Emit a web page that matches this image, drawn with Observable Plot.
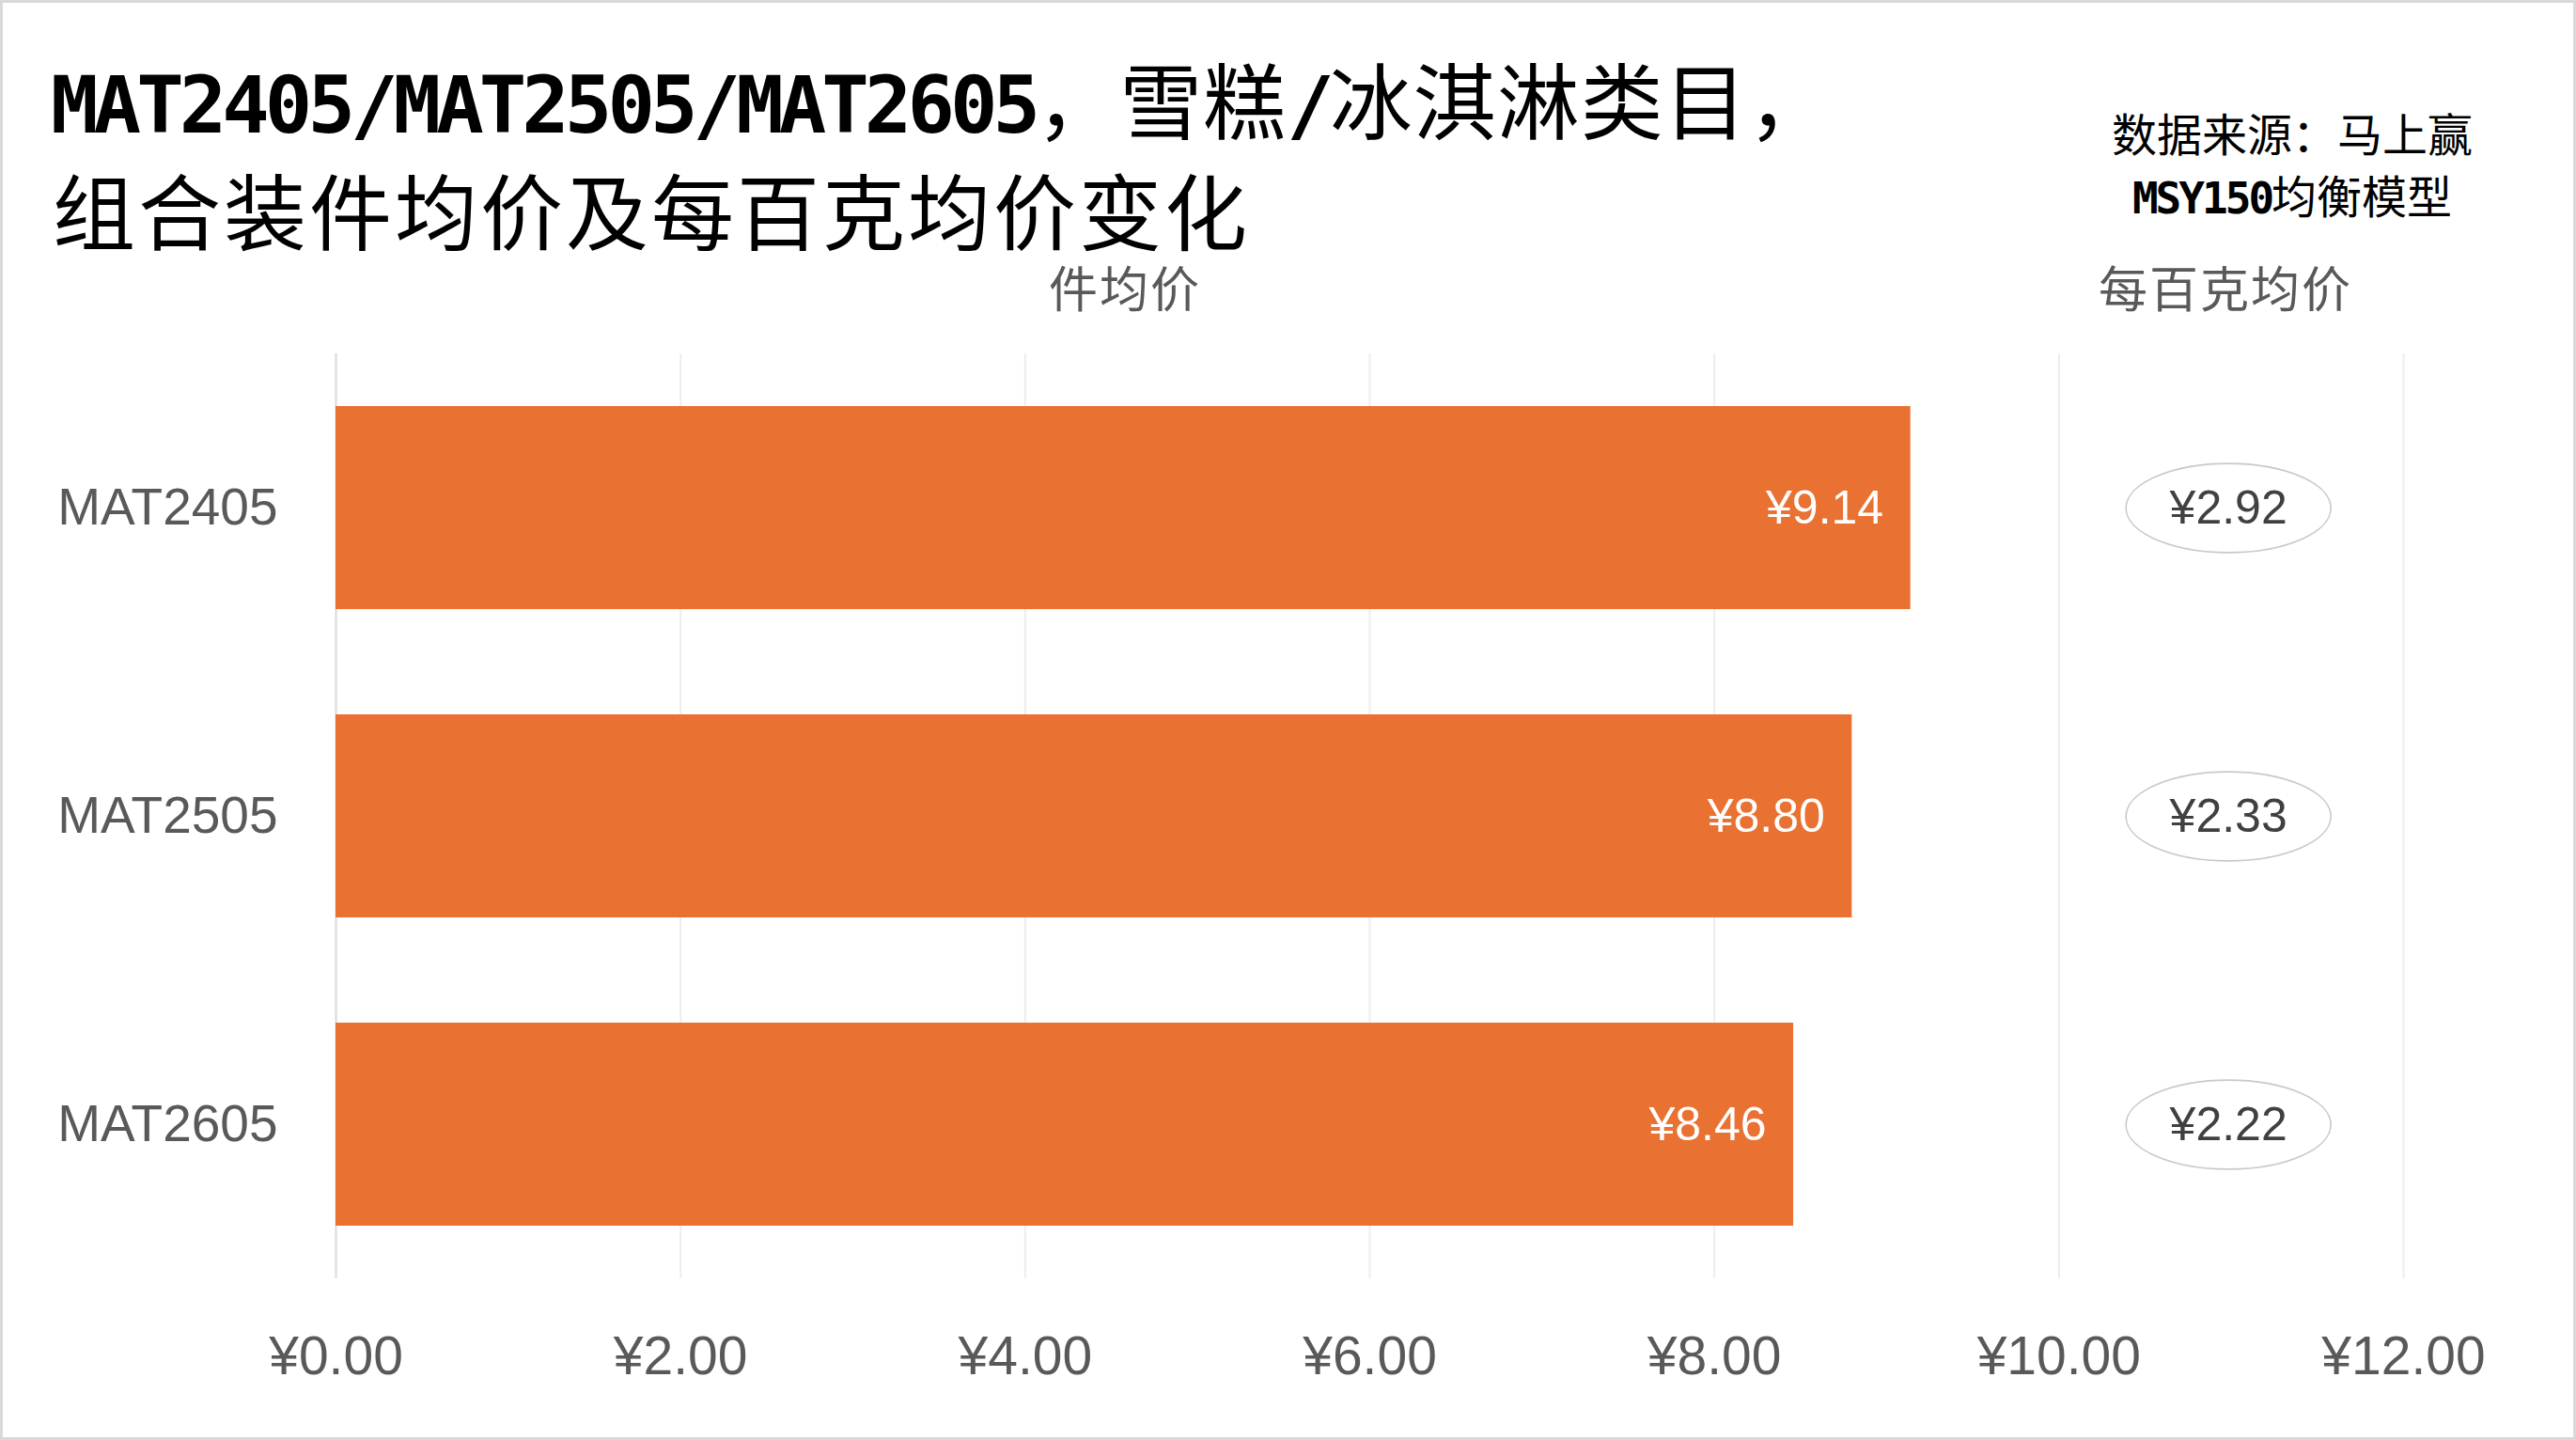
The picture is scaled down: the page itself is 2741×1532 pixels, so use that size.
<!DOCTYPE html>
<html>
<head>
<meta charset="utf-8">
<script src="https://cdn.jsdelivr.net/npm/d3@7"></script>
<script src="https://cdn.jsdelivr.net/npm/@observablehq/plot@0.6"></script>
<style>
  html, body { margin: 0; padding: 0; background: #fff; }
  #page { position: relative; width: 2741px; height: 1532px; background: #fff; outline: 3px solid #d9d9d9; outline-offset: -3px; overflow: hidden; }
  #header { position: relative; width: 2741px; height: 340px; }
  .abs { position: absolute; white-space: nowrap; line-height: 1; }
  .title { font-family: "Liberation Sans", "Noto Sans CJK SC", sans-serif; font-size: 88px; color: #000; font-weight: 400; }
  .lat { font-family: "DejaVu Sans Mono", monospace; font-weight: 700; font-size: 84px; letter-spacing: -5px; }
  .src { font-family: "Liberation Sans", "Noto Sans CJK SC", sans-serif; font-size: 48px; color: #000; text-align: center; width: 440px; }
  .src .lat2 { font-family: "DejaVu Sans Mono", monospace; font-weight: 700; font-size: 46px; letter-spacing: -3px; }
  .colhead { font-family: "Liberation Sans", "Noto Sans CJK SC", sans-serif; font-size: 52px; color: #595959; text-align: center; width: 400px; letter-spacing: 2px; }
</style>
</head>
<body>
<div id="page">
  <div id="header">
    <div class="abs title" style="left:54px; top:67px; letter-spacing:1px;"><span class="lat">MAT2405/MAT2505/MAT2605</span>，雪糕<span class="lat">/</span>冰淇淋类目，</div>
    <div class="abs title" style="left:56px; top:185px; letter-spacing:3px;">组合装件均价及每百克均价变化</div>
    <div class="abs src" style="left:2219px; top:121px;">数据来源：马上赢</div>
    <div class="abs src" style="left:2219px; top:187px;"><span class="lat2">MSY150</span>均衡模型</div>
    <div class="abs colhead" style="left:997px; top:283px;">件均价</div>
    <div class="abs colhead" style="left:2168px; top:283px;">每百克均价</div>
  </div>
  <div id="chart"></div>
</div>
<script>
// ---- data ----
const categories = ["MAT2405", "MAT2505", "MAT2605"];
const unitPrice = [9.14, 8.80, 8.46];          // 件均价
const per100gPrice = [2.92, 2.33, 2.22];       // 每百克均价
const xTicks = [0, 2, 4, 6, 8, 10, 12];

// ---- layout ----
const per100gColumnX = 11;   // column position for the per-100g ellipses (in x-scale units)
const fmt = v => "¥" + v.toFixed(2);

const rows = categories.map((c, i) => ({ period: c, unit: unitPrice[i], per100g: per100gPrice[i] }));

// ellipse symbol for Plot.dot
const ellipseSymbol = {
  draw(context, size) {
    const rx = Math.sqrt(size / Math.PI);
    const ry = rx * 0.435;
    const k = 0.5522847498;
    context.moveTo(rx, 0);
    context.bezierCurveTo(rx, ry * k, rx * k, ry, 0, ry);
    context.bezierCurveTo(-rx * k, ry, -rx, ry * k, -rx, 0);
    context.bezierCurveTo(-rx, -ry * k, -rx * k, -ry, 0, -ry);
    context.bezierCurveTo(rx * k, -ry, rx, -ry * k, rx, 0);
    context.closePath();
  }
};

const chart = Plot.plot({
  width: 2741,
  height: 1192,
  marginLeft: 357,
  marginRight: 184,
  marginTop: 36,
  marginBottom: 172,
  style: { fontFamily: "'Liberation Sans', Arial, sans-serif", color: "#595959", background: "transparent", overflow: "visible" },
  x: { domain: [0, 12], ticks: xTicks, tickFormat: fmt, label: null },
  y: { domain: categories, paddingInner: 0.34, paddingOuter: 0.17, label: null },
  marks: [
    Plot.ruleX(xTicks.slice(1), { stroke: "#ededed", strokeWidth: 2 }),
    Plot.ruleX([0], { stroke: "#d9d9d9", strokeWidth: 2 }),
    Plot.barX(rows, { x: "unit", y: "period", fill: "#E97132" }),
    Plot.text(rows, { x: "unit", y: "period", text: d => fmt(d.unit), textAnchor: "end", dx: -29, fill: "#ffffff", fontSize: 50 }),
    Plot.dot(rows, { x: () => per100gColumnX, y: "period", dx: -3, r: 109, symbol: ellipseSymbol, fill: "#ffffff", stroke: "#c9c9c9", strokeWidth: 1.6 }),
    Plot.text(rows, { x: () => per100gColumnX, y: "period", dx: -3, text: d => fmt(d.per100g), fill: "#404040", fontSize: 50 }),
    Plot.axisX({ ticks: xTicks, tickFormat: fmt, tickSize: 0, tickPadding: 61, fontSize: 57, label: null }),
    Plot.axisY({ tickSize: 0, tickPadding: 62, fontSize: 55, label: null })
  ]
});
document.getElementById("chart").appendChild(chart);
</script>
</body>
</html>
